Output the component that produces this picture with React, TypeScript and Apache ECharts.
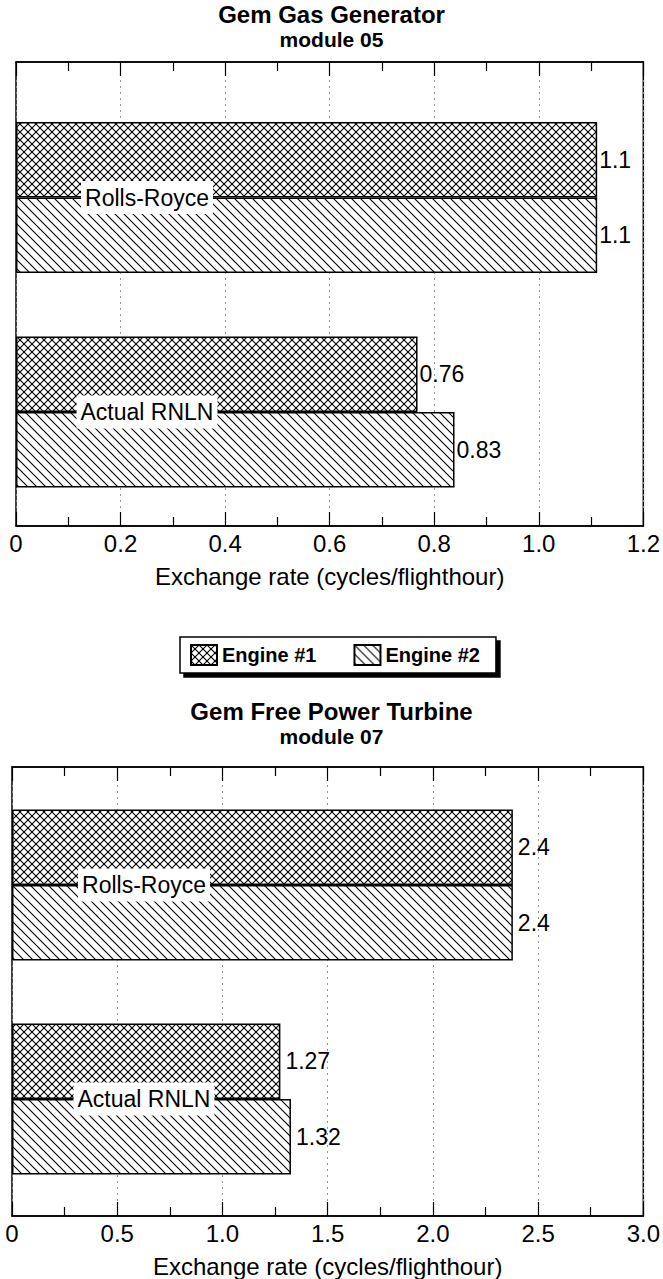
import React, { useEffect, useRef } from "react";
import * as echarts from "echarts";

const categories = ["Rolls-Royce", "Actual RNLN"];

const genTitle = "Gem Gas Generator";
const genModule = "module 05";
const genEngine1 = [1.1, 0.76];
const genEngine2 = [1.1, 0.83];
const genLabels1 = ["1.1", "0.76"];
const genLabels2 = ["1.1", "0.83"];
const genTicks = ["0", "0.2", "0.4", "0.6", "0.8", "1.0", "1.2"];
const genMax = 1.2;
const genInterval = 0.2;

const ptTitle = "Gem Free Power Turbine";
const ptModule = "module 07";
const ptEngine1 = [2.37, 1.27];
const ptEngine2 = [2.37, 1.32];
const ptLabels1 = ["2.4", "1.27"];
const ptLabels2 = ["2.4", "1.32"];
const ptTicks = ["0", "0.5", "1.0", "1.5", "2.0", "2.5", "3.0"];
const ptMax = 3.0;
const ptInterval = 0.5;

const axisName = "Exchange rate (cycles/flighthour)";
const seriesNames = ["Engine #1", "Engine #2"];

const FONT = "Liberation Sans, Arial, Helvetica, sans-serif";

function makePattern(size: number, cross: boolean): HTMLCanvasElement {
  const c = document.createElement("canvas");
  c.width = size;
  c.height = size;
  const ctx = c.getContext("2d")!;
  ctx.fillStyle = "#fff";
  ctx.fillRect(0, 0, size, size);
  ctx.strokeStyle = "#000";
  ctx.lineWidth = 1.1;
  for (let k = -1; k <= 1; k++) {
    ctx.beginPath();
    ctx.moveTo(k * size - 1, -1);
    ctx.lineTo(k * size + size + 1, size + 1);
    ctx.stroke();
    if (cross) {
      ctx.beginPath();
      ctx.moveTo(k * size - 1, size + 1);
      ctx.lineTo(k * size + size + 1, -1);
      ctx.stroke();
    }
  }
  return c;
}

export default function App() {
  const ref = useRef<HTMLDivElement>(null);
  useEffect(() => {
    if (!ref.current) return;
    const chart = echarts.init(ref.current, null, { renderer: "svg" });
    const crossPat = { image: makePattern(8, true), repeat: "repeat" } as any;
    const hatchPat = { image: makePattern(9, false), repeat: "repeat" } as any;

    const frameX = (grid: number, max: number, interval: number, ticks: string[], bottom: boolean) => ({
      type: "value",
      gridIndex: grid,
      min: 0,
      max,
      interval,
      position: bottom ? "bottom" : "top",
      axisLine: { show: true, lineStyle: { color: "#000", width: 1.5 } },
      axisTick: { show: true, inside: true, length: 14, lineStyle: { color: "#000", width: 1.2 } },
      minorTick: { show: true, splitNumber: 2, length: 9, lineStyle: { color: "#000", width: 1.2 } },
      splitLine: bottom
        ? { show: true, lineStyle: { color: "#888", width: 0.9, type: [2, 4] } }
        : { show: false },
      axisLabel: bottom
        ? {
            show: true,
            margin: 5,
            fontSize: 24,
            color: "#000",
            fontFamily: FONT,
            formatter: (v: number) => ticks[Math.round(v / interval)] ?? "",
          }
        : { show: false },
      name: bottom ? axisName : "",
      nameLocation: "middle",
      nameGap: 38,
      nameMoveOverlap: false,
      nameTextStyle: { fontSize: 24, color: "#000", fontFamily: FONT },
    });

    const hiddenX = (grid: number, max: number) => ({
      type: "value",
      gridIndex: grid,
      min: 0,
      max,
      show: false,
    });

    const hiddenY = (grid: number) => ({ type: "value", gridIndex: grid, min: 0, max: 1, show: false });

    const catY = (grid: number, margin: number) => ({
      type: "category",
      gridIndex: grid,
      data: categories,
      inverse: true,
      z: 10,
      axisLine: { show: false },
      axisTick: { show: false },
      splitLine: { show: false },
      axisLabel: {
        show: true,
        inside: true,
        margin,
        align: "center",
        fontSize: 23,
        color: "#000",
        fontFamily: FONT,
        backgroundColor: "#fff",
        padding: [5, 4, 5, 4],
      },
    });

    const barSeries = (
      name: string,
      xi: number,
      yi: number,
      data: number[],
      labels: string[],
      pat: any,
      dist: number
    ) => ({
      type: "bar",
      name,
      xAxisIndex: xi,
      yAxisIndex: yi,
      data,
      barWidth: 75.5,
      barGap: "0%",
      itemStyle: { color: pat, borderColor: "#000", borderWidth: 1.5 },
      label: {
        show: true,
        position: "right",
        distance: dist,
        fontSize: 23,
        color: "#000",
        fontFamily: FONT,
        formatter: (p: any) => labels[p.dataIndex],
      },
    });

    const titleStyle = (size: number) => ({ fontSize: size, fontWeight: "bold", color: "#000", fontFamily: FONT });

    chart.setOption({
      animation: false,
      backgroundColor: "#fff",
      title: [
        { text: genTitle, left: "center", top: 2, textStyle: titleStyle(24), padding: 0 },
        { text: genModule, left: "center", top: 29, textStyle: titleStyle(21), padding: 0 },
        { text: ptTitle, left: "center", top: 699, textStyle: titleStyle(24), padding: 0 },
        { text: ptModule, left: "center", top: 726, textStyle: titleStyle(21), padding: 0 },
      ],
      legend: {
        data: seriesNames,
        left: 180,
        top: 637,
        orient: "horizontal",
        itemWidth: 26,
        itemHeight: 20,
        itemGap: 37,
        padding: [7, 16, 7, 10],
        backgroundColor: "#fff",
        borderColor: "#000",
        borderWidth: 1.5,
        shadowColor: "#000",
        shadowBlur: 0,
        shadowOffsetX: 4,
        shadowOffsetY: 4,
        textStyle: { fontSize: 20, fontWeight: "bold", color: "#000", fontFamily: FONT },
        icon: "rect",
      },
      grid: [
        { left: 16, right: 13, top: 62, height: 464, show: true, borderColor: "#000", borderWidth: 1.5, backgroundColor: "transparent" },
        { left: 16, right: 13, top: 90.25, height: 429 },
        { left: 12, right: 17, top: 767, height: 453, show: true, borderColor: "#000", borderWidth: 1.5, backgroundColor: "transparent" },
        { left: 12, right: 17, top: 778, height: 428 },
      ],
      xAxis: [
        frameX(0, genMax, genInterval, genTicks, true),
        frameX(0, genMax, genInterval, genTicks, false),
        hiddenX(1, genMax),
        frameX(2, ptMax, ptInterval, ptTicks, true),
        frameX(2, ptMax, ptInterval, ptTicks, false),
        hiddenX(3, ptMax),
      ],
      yAxis: [hiddenY(0), catY(1, 131), hiddenY(2), catY(3, 132)],
      series: [
        barSeries(seriesNames[0], 2, 1, genEngine1, genLabels1, crossPat, 2),
        barSeries(seriesNames[1], 2, 1, genEngine2, genLabels2, hatchPat, 2),
        barSeries(seriesNames[0], 5, 3, ptEngine1, ptLabels1, crossPat, 5),
        barSeries(seriesNames[1], 5, 3, ptEngine2, ptLabels2, hatchPat, 5),
      ],
    } as any);
    return () => chart.dispose();
  }, []);
  return (
    <div
      ref={ref}
      style={{ position: "absolute", left: 0, top: 0, width: 663, height: 1279, background: "#fff" }}
    />
  );
}
